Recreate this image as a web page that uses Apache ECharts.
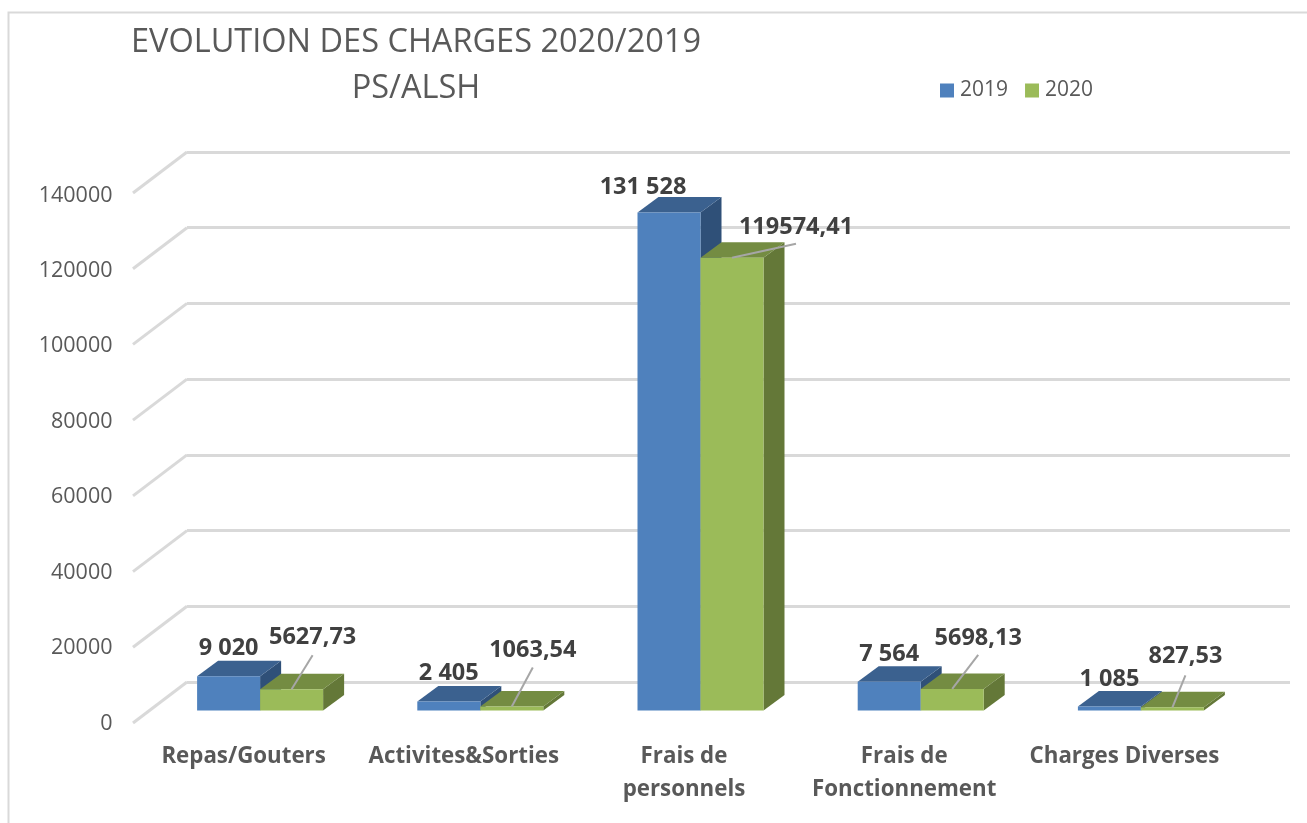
<!DOCTYPE html>
<html><head><meta charset="utf-8">
<style>html,body{margin:0;padding:0;background:#fff}#c{width:1307px;height:823px}</style>
<script src="https://cdn.jsdelivr.net/npm/echarts@6/dist/echarts.min.js"></script>
</head><body><div id="c"></div>
<script>
const categories = ['Repas/Gouters', 'Activites&Sorties', 'Frais de\npersonnels', 'Frais de\nFonctionnement', 'Charges Diverses'];
const values2019 = [9020, 2405, 131528, 7564, 1085];
const values2020 = [5627.73, 1063.54, 119574.41, 5698.13, 827.53];
const yTicks = [0, 20000, 40000, 60000, 80000, 100000, 120000, 140000];

// label placement relative to the top-front-centre of each bar [dx, dy]
const labelOffset2019 = [[0, -28.5], [0, -28.5], [-26, -25.5], [0, -27.5], [0, -27.5]];
const labelOffset2020 = [[21, -51.5], [21, -56.5], [64, -30.5], [26, -50.5], [13, -51.5]];
// leader line end relative to the same anchor
const leaderEnd2020 = [[21, -34], [21, -39], [64, -14], [26, -34], [13, -32]];

const BAR_W = 63, DX = 21, DY = -15.5, WALL_DX = 54, WALL_DY = -41;
const FONT = '"Open Sans"';
const TEXT = '#595959';

function barRender(cols, side) {
  return function (params, api) {
    const i = api.value(0), v = api.value(1);
    const c = api.coord([i, v]), b = api.coord([i, 0]);
    const x0 = c[0] + (side < 0 ? -BAR_W : 0), x1 = x0 + BAR_W;
    const yt = c[1], yb = b[1];
    const poly = (pts, fill) => ({ type: 'polygon', shape: { points: pts }, style: { fill: fill } });
    return {
      type: 'group',
      children: [
        poly([[x1, yb], [x1 + DX, yb + DY], [x1 + DX, yt + DY], [x1, yt]], cols[2]),
        poly([[x0, yt], [x1, yt], [x1 + DX, yt + DY], [x0 + DX, yt + DY]], cols[1]),
        poly([[x0, yt], [x1, yt], [x1, yb], [x0, yb]], cols[0])
      ]
    };
  };
}

function labelRender(side, offsets, leaders, fmt, vals) {
  return function (params, api) {
    const i = api.value(0), v = api.value(1);
    const c = api.coord([i, v]);
    const ax = c[0] + side * BAR_W / 2, ay = c[1];
    const o = offsets[i];
    const children = [];
    if (leaders) {
      const e = leaders[i];
      children.push({ type: 'line', shape: { x1: ax, y1: ay, x2: ax + e[0], y2: ay + e[1] },
        style: { stroke: '#a6a6a6', lineWidth: 2 } });
    }
    children.push({ type: 'text', style: { x: ax + o[0], y: ay + o[1], text: fmt(vals[i]),
      font: 'bold 23.5px ' + FONT, fill: '#404040', align: 'center', verticalAlign: 'middle' } });
    return { type: 'group', children: children };
  };
}
const fmt2019 = v => String(v).replace(/\B(?=(\d{3})+$)/g, ' ');
const fmt2020 = v => String(v).replace('.', ',');

function diagRender(params, api) {
  const v = api.value(0);
  const p = api.coord([0, v]);
  const x = p[0] - api.size([1, 0])[0] / 2;
  return { type: 'line', shape: { x1: x, y1: p[1], x2: x - WALL_DX, y2: p[1] - WALL_DY },
    style: { stroke: '#d9d9d9', lineWidth: 3 } };
}

const yBase = { type: 'value', min: 0, max: 140000, interval: 20000 };
const option = {
  animation: false,
  backgroundColor: '#fff',
  title: {
    text: 'EVOLUTION DES CHARGES 2020/2019\nPS/ALSH',
    left: 411, top: 15, textAlign: 'center',
    textStyle: { fontFamily: FONT, fontWeight: 'normal', fontSize: 32.5, color: TEXT, lineHeight: 45.5 }
  },
  legend: {
    data: [
      { name: '2019', icon: 'rect', itemStyle: { color: '#4F81BD' } },
      { name: '2020', icon: 'rect', itemStyle: { color: '#9BBB59' } }
    ],
    left: 935, top: 75, itemWidth: 14, itemHeight: 14, itemGap: 17,
    textStyle: { fontFamily: FONT, fontSize: 21, color: TEXT, padding: [0, 0, 0, 1] }
  },
  graphic: [
    { type: 'polyline', silent: true, z: 0, shape: { points: [[8.5, 823], [8.5, 12.5], [1307, 12.5]] },
      style: { stroke: '#d9d9d9', lineWidth: 2, fill: null } }
  ],
  grid: [
    { left: 150, top: 180.5, width: 1101, height: 530 },
    { left: 187, top: 152, width: 1103, height: 530 },
    { left: 133.5, top: 195.5, width: 1101, height: 528 }
  ],
  xAxis: [
    { type: 'category', gridIndex: 0, data: categories, show: false },
    { type: 'category', gridIndex: 1, data: categories, show: false },
    { type: 'category', gridIndex: 2, data: categories,
      axisLine: { show: false }, axisTick: { show: false },
      axisLabel: { margin: 16.5, interval: 0, fontFamily: FONT, fontWeight: 'bold', fontSize: 22.3, color: TEXT, lineHeight: 33 } }
  ],
  yAxis: [
    Object.assign({}, yBase, { gridIndex: 0, show: false }),
    Object.assign({}, yBase, { gridIndex: 1, axisLine: { show: false }, axisTick: { show: false }, axisLabel: { show: false },
      splitLine: { show: true, lineStyle: { color: '#d9d9d9', width: 3 } } }),
    Object.assign({}, yBase, { gridIndex: 2, axisLine: { show: false }, axisTick: { show: false }, splitLine: { show: false },
      axisLabel: { margin: 21, fontFamily: FONT, fontSize: 21.5, color: TEXT, formatter: v => String(v) } })
  ],
  series: [
    { type: 'custom', name: 'wall', xAxisIndex: 1, yAxisIndex: 1, silent: true, z: 1, clip: false,
      data: yTicks.map(v => [v]), encode: { y: 0 }, renderItem: diagRender },
    { type: 'custom', name: '2019', xAxisIndex: 0, yAxisIndex: 0, z: 3, clip: false,
      data: values2019.map((v, i) => [i, v]), encode: { x: 0, y: 1 },
      renderItem: barRender(['#4F81BD', '#3B618F', '#2F5078'], -1) },
    { type: 'custom', name: '2020', xAxisIndex: 0, yAxisIndex: 0, z: 4, clip: false,
      data: values2020.map((v, i) => [i, v]), encode: { x: 0, y: 1 },
      renderItem: barRender(['#9BBB59', '#748C42', '#647838'], 1) },
    { type: 'custom', name: 'labels2019', xAxisIndex: 0, yAxisIndex: 0, z: 5, clip: false, silent: true,
      data: values2019.map((v, i) => [i, v]), encode: { x: 0, y: 1 },
      renderItem: labelRender(-1, labelOffset2019, null, fmt2019, values2019) },
    { type: 'custom', name: 'labels2020', xAxisIndex: 0, yAxisIndex: 0, z: 5, clip: false, silent: true,
      data: values2020.map((v, i) => [i, v]), encode: { x: 0, y: 1 },
      renderItem: labelRender(1, labelOffset2020, leaderEnd2020, fmt2020, values2020) }
  ]
};
echarts.init(document.getElementById('c'), null, { renderer: 'canvas' }).setOption(option);
</script></body></html>
